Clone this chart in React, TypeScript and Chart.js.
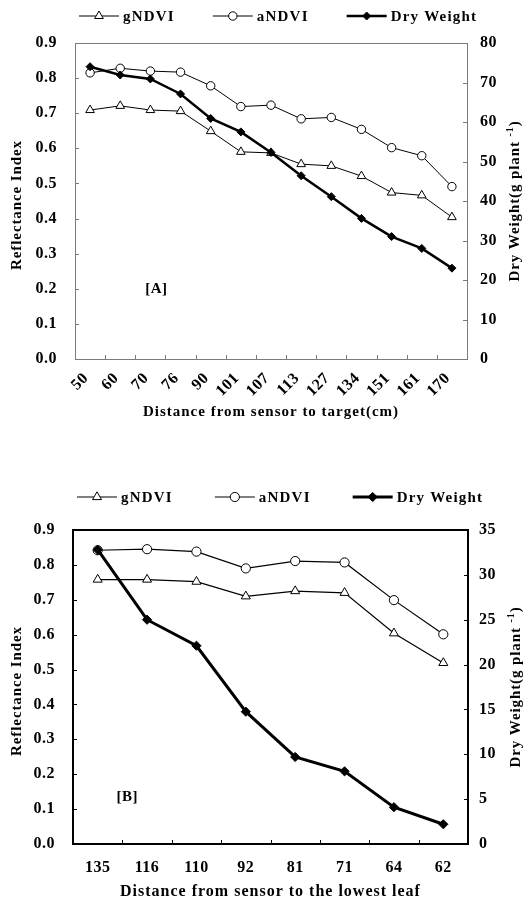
import React, { useEffect, useRef } from 'react';
import { Chart, registerables } from 'chart.js';

Chart.register(...registerables);

// ---------- Panel A data ----------
const distancesA = ['50', '60', '70', '76', '90', '101', '107', '113', '127', '134', '151', '161', '170'];
const gNdviA = [0.709, 0.721, 0.709, 0.706, 0.649, 0.59, 0.587, 0.555, 0.55, 0.521, 0.474, 0.466, 0.404];
const aNdviA = [0.815, 0.828, 0.82, 0.817, 0.778, 0.719, 0.723, 0.684, 0.688, 0.654, 0.602, 0.579, 0.491];
const dryWeightA = [74.0, 71.9, 70.9, 67.1, 60.9, 57.5, 52.3, 46.4, 41.1, 35.6, 31.0, 28.0, 23.0];

// ---------- Panel B data ----------
const distancesB = ['135', '116', '110', '92', '81', '71', '64', '62'];
const gNdviB = [0.758, 0.758, 0.752, 0.71, 0.725, 0.72, 0.604, 0.519];
const aNdviB = [0.842, 0.845, 0.838, 0.79, 0.811, 0.807, 0.699, 0.601];
const dryWeightB = [32.8, 25.0, 22.1, 14.75, 9.7, 8.1, 4.1, 2.2];

// ---------- Axis ranges ----------
const reflectanceRange = { min: 0, max: 0.9, step: 0.1 };
const dryWeightRangeA = { min: 0, max: 80, step: 10 };
const dryWeightRangeB = { min: 0, max: 35, step: 5 };

const seriesNames = ['gNDVI', 'aNDVI', 'Dry Weight'];
const leftTitle = 'Reflectance Index';
const rightTitleMain = 'Dry Weight(g plant ';
const rightTitleSup = '-1';
const rightTitleEnd = ')';
const bottomTitleA = 'Distance from sensor to target(cm)';
const bottomTitleB = 'Distance from sensor to the lowest leaf';
const panelLabelA = { text: '[A]', index: 2.2, value: 0.2 };
const panelLabelB = { text: '[B]', index: 0.6, value: 0.135 };

const SERIF = "'Liberation Serif', 'Times New Roman', serif";

type PanelCfg = {
  id: string;
  labels: string[];
  g: number[];
  a: number[];
  dw: number[];
  dwRange: { min: number; max: number; step: number };
  height: number;
  plotTop: number;
  plotBottom: number;
  plotLeft: number;
  plotRight: number;
  frameColor: string;
  frameWidth: number;
  dwLineWidth: number;
  thinLineWidth: number;
  markerR: { tri: number; circ: number; dia: number };
  rotation: number;
  xTickPadding: number;
  xLabelOffset: number;
  rightTickPadding: number;
  legendY: number;
  legendGap: number;
  bottomTitle: string;
  bottomTitleY: number;
  bottomTitleSize: number;
  panelLabel: { text: string; index: number; value: number };
};

function drawMarker(
  ctx: CanvasRenderingContext2D,
  style: string,
  x: number,
  y: number,
  r: number,
  fill: string,
  stroke: string,
  bw: number
) {
  ctx.beginPath();
  if (style === 'triangle') {
    ctx.moveTo(x, y - r);
    ctx.lineTo(x + r * 0.866, y + r * 0.5);
    ctx.lineTo(x - r * 0.866, y + r * 0.5);
    ctx.closePath();
  } else if (style === 'circle') {
    ctx.arc(x, y, r, 0, Math.PI * 2);
  } else {
    ctx.moveTo(x, y - r);
    ctx.lineTo(x + r, y);
    ctx.lineTo(x, y + r);
    ctx.lineTo(x - r, y);
    ctx.closePath();
  }
  ctx.fillStyle = fill;
  ctx.fill();
  ctx.lineWidth = bw;
  ctx.strokeStyle = stroke;
  ctx.stroke();
}

function makePlugin(cfg: PanelCfg) {
  return {
    id: 'decor' + cfg.id,
    beforeDraw(chart: any) {
      chart.ctx.letterSpacing = '0.5px';
    },
    beforeDatasetsDraw(chart: any) {
      const { ctx, chartArea: ar, scales } = chart;
      ctx.save();
      const off = cfg.frameWidth % 2 === 1 ? 0.5 : 0;
      ctx.strokeStyle = cfg.frameColor;
      ctx.lineWidth = cfg.frameWidth;
      ctx.strokeRect(ar.left + off, ar.top + off, ar.right - ar.left, ar.bottom - ar.top);
      const tl = 4;
      ctx.lineWidth = 1;
      ctx.beginPath();
      scales.y.ticks.forEach((_t: any, i: number) => {
        const py = Math.round(scales.y.getPixelForTick(i)) + 0.5;
        ctx.moveTo(ar.left, py);
        ctx.lineTo(ar.left + tl, py);
      });
      scales.y1.ticks.forEach((_t: any, i: number) => {
        const py = Math.round(scales.y1.getPixelForTick(i)) + 0.5;
        ctx.moveTo(ar.right, py);
        ctx.lineTo(ar.right - tl, py);
      });
      const n = cfg.labels.length;
      for (let i = 0; i < n - 1; i++) {
        const px = Math.round((scales.x.getPixelForValue(i) + scales.x.getPixelForValue(i + 1)) / 2) + 0.5;
        ctx.moveTo(px, ar.bottom);
        ctx.lineTo(px, ar.bottom - tl);
      }
      ctx.stroke();
      ctx.restore();
    },
    afterDraw(chart: any) {
      const { ctx, chartArea: ar, scales } = chart;
      ctx.save();
      ctx.fillStyle = '#000';
      // Legend
      ctx.font = `bold 15px ${SERIF}`;
      ctx.letterSpacing = '1.2px';
      ctx.textBaseline = 'middle';
      ctx.textAlign = 'left';
      let x = ar.left + 4;
      const ly = cfg.legendY;
      const lineLen = 40;
      chart.data.datasets.forEach((ds: any) => {
        ctx.strokeStyle = ds.borderColor;
        ctx.lineWidth = ds.borderWidth;
        ctx.beginPath();
        ctx.moveTo(x, ly);
        ctx.lineTo(x + lineLen, ly);
        ctx.stroke();
        drawMarker(ctx, ds.pointStyle, x + lineLen / 2, ly, ds.pointRadius, ds.pointBackgroundColor, ds.pointBorderColor, ds.pointBorderWidth);
        ctx.fillStyle = '#000';
        const tx = x + lineLen + 4;
        ctx.fillText(ds.label, tx, ly + 1);
        x = tx + ctx.measureText(ds.label).width + cfg.legendGap;
      });
      // Left title
      const cy = (ar.top + ar.bottom) / 2;
      ctx.font = `bold 15px ${SERIF}`;
      ctx.letterSpacing = '0.9px';
      ctx.textAlign = 'center';
      ctx.save();
      ctx.translate(17, cy + 4);
      ctx.rotate(-Math.PI / 2);
      ctx.fillText(leftTitle, 0, 0);
      ctx.restore();
      // Right title with superscript
      ctx.save();
      ctx.translate(ar.right + 48, cy);
      ctx.rotate(-Math.PI / 2);
      ctx.textAlign = 'left';
      ctx.font = `bold 15px ${SERIF}`;
      const w1 = ctx.measureText(rightTitleMain).width;
      const w3 = ctx.measureText(rightTitleEnd).width;
      ctx.font = `bold 10px ${SERIF}`;
      const w2 = ctx.measureText(rightTitleSup).width;
      let sx = -(w1 + w2 + w3) / 2;
      ctx.font = `bold 15px ${SERIF}`;
      ctx.fillText(rightTitleMain, sx, 0);
      sx += w1;
      ctx.font = `bold 10px ${SERIF}`;
      ctx.fillText(rightTitleSup, sx, -5);
      sx += w2;
      ctx.font = `bold 15px ${SERIF}`;
      ctx.fillText(rightTitleEnd, sx, 0);
      ctx.restore();
      // Bottom title
      ctx.font = `bold ${cfg.bottomTitleSize}px ${SERIF}`;
      ctx.letterSpacing = '1px';
      ctx.textAlign = 'center';
      ctx.fillText(cfg.bottomTitle, (ar.left + ar.right) / 2, cfg.bottomTitleY);
      // Panel label
      ctx.font = `bold 15px ${SERIF}`;
      ctx.letterSpacing = '0.5px';
      ctx.fillText(
        cfg.panelLabel.text,
        scales.x.getPixelForValue(cfg.panelLabel.index),
        scales.y.getPixelForValue(cfg.panelLabel.value)
      );
      ctx.restore();
    },
  };
}

function Panel({ cfg, top }: { cfg: PanelCfg; top: number }) {
  const ref = useRef<HTMLCanvasElement | null>(null);
  useEffect(() => {
    if (!ref.current) return;
    const W = 528;
    const tickFont = { family: SERIF, size: 16, weight: 'bold' as const };
    const chart = new Chart(ref.current, {
      type: 'line',
      data: {
        labels: cfg.labels,
        datasets: [
          {
            label: seriesNames[0],
            data: cfg.g,
            yAxisID: 'y',
            borderColor: '#000',
            borderWidth: cfg.thinLineWidth,
            pointStyle: 'triangle',
            pointRadius: cfg.markerR.tri,
            pointBackgroundColor: '#fff',
            pointBorderColor: '#000',
            pointBorderWidth: 1,
            tension: 0,
            order: 2,
          },
          {
            label: seriesNames[1],
            data: cfg.a,
            yAxisID: 'y',
            borderColor: '#000',
            borderWidth: cfg.thinLineWidth,
            pointStyle: 'circle',
            pointRadius: cfg.markerR.circ,
            pointBackgroundColor: '#fff',
            pointBorderColor: '#000',
            pointBorderWidth: 1,
            tension: 0,
            order: 1,
          },
          {
            label: seriesNames[2],
            data: cfg.dw,
            yAxisID: 'y1',
            borderColor: '#000',
            borderWidth: cfg.dwLineWidth,
            pointStyle: 'rectRot',
            pointRadius: cfg.markerR.dia,
            pointBackgroundColor: '#000',
            pointBorderColor: '#000',
            pointBorderWidth: 1,
            tension: 0,
            order: 0,
          },
        ],
      },
      options: {
        responsive: false,
        animation: false,
        events: [],
        layout: { padding: { top: cfg.plotTop, left: 0, right: 0, bottom: 0 } },
        plugins: { legend: { display: false }, tooltip: { enabled: false } },
        scales: {
          x: {
            type: 'category',
            offset: true,
            grid: { display: false, drawTicks: false, offset: true },
            border: { display: false },
            ticks: {
              font: tickFont,
              color: '#000',
              padding: cfg.xTickPadding,
              minRotation: cfg.rotation,
              maxRotation: cfg.rotation,
              autoSkip: false,
              labelOffset: cfg.xLabelOffset,
            },
            afterFit: (s: any) => {
              s.height = cfg.height - cfg.plotBottom;
            },
          },
          y: {
            position: 'left',
            min: reflectanceRange.min,
            max: reflectanceRange.max,
            grid: { display: false, drawTicks: false },
            border: { display: false },
            ticks: {
              stepSize: reflectanceRange.step,
              font: tickFont,
              color: '#000',
              padding: 18,
              callback: (v: any) => Number(v).toFixed(1),
            },
            afterFit: (s: any) => {
              s.width = cfg.plotLeft;
            },
          },
          y1: {
            position: 'right',
            min: cfg.dwRange.min,
            max: cfg.dwRange.max,
            grid: { display: false, drawTicks: false },
            border: { display: false },
            ticks: {
              stepSize: cfg.dwRange.step,
              font: tickFont,
              color: '#000',
              padding: cfg.rightTickPadding,
            },
            afterFit: (s: any) => {
              s.width = W - cfg.plotRight;
            },
          },
        },
      },
      plugins: [makePlugin(cfg)],
    } as any);
    return () => chart.destroy();
  }, [cfg]);
  return (
    <canvas
      ref={ref}
      width={528}
      height={cfg.height}
      style={{ position: 'absolute', left: 0, top, width: 528, height: cfg.height, display: 'block' }}
    />
  );
}

const cfgA: PanelCfg = {
  id: 'A',
  labels: distancesA,
  g: gNdviA,
  a: aNdviA,
  dw: dryWeightA,
  dwRange: dryWeightRangeA,
  height: 440,
  plotTop: 43,
  plotBottom: 359,
  plotLeft: 75,
  plotRight: 467,
  frameColor: '#7a7a7a',
  frameWidth: 1,
  dwLineWidth: 2.5,
  thinLineWidth: 1,
  markerR: { tri: 5, circ: 4.2, dia: 4 },
  rotation: 45,
  xTickPadding: 10,
  xLabelOffset: -4,
  rightTickPadding: 13,
  legendY: 16,
  legendGap: 38,
  bottomTitle: bottomTitleA,
  bottomTitleY: 412,
  bottomTitleSize: 15,
  panelLabel: panelLabelA,
};

const cfgB: PanelCfg = {
  id: 'B',
  labels: distancesB,
  g: gNdviB,
  a: aNdviB,
  dw: dryWeightB,
  dwRange: dryWeightRangeB,
  height: 452,
  plotTop: 80,
  plotBottom: 394,
  plotLeft: 73,
  plotRight: 468,
  frameColor: '#000',
  frameWidth: 2,
  dwLineWidth: 3,
  thinLineWidth: 1.2,
  markerR: { tri: 5.2, circ: 4.6, dia: 4.6 },
  rotation: 0,
  xTickPadding: 14,
  xLabelOffset: 0,
  rightTickPadding: 11,
  legendY: 47,
  legendGap: 42,
  bottomTitle: bottomTitleB,
  bottomTitleY: 442,
  bottomTitleSize: 16,
  panelLabel: panelLabelB,
};

export default function App() {
  return (
    <div style={{ position: 'absolute', left: 0, top: 0, width: 528, height: 902, background: '#fff' }}>
      <Panel cfg={cfgA} top={0} />
      <Panel cfg={cfgB} top={450} />
    </div>
  );
}
